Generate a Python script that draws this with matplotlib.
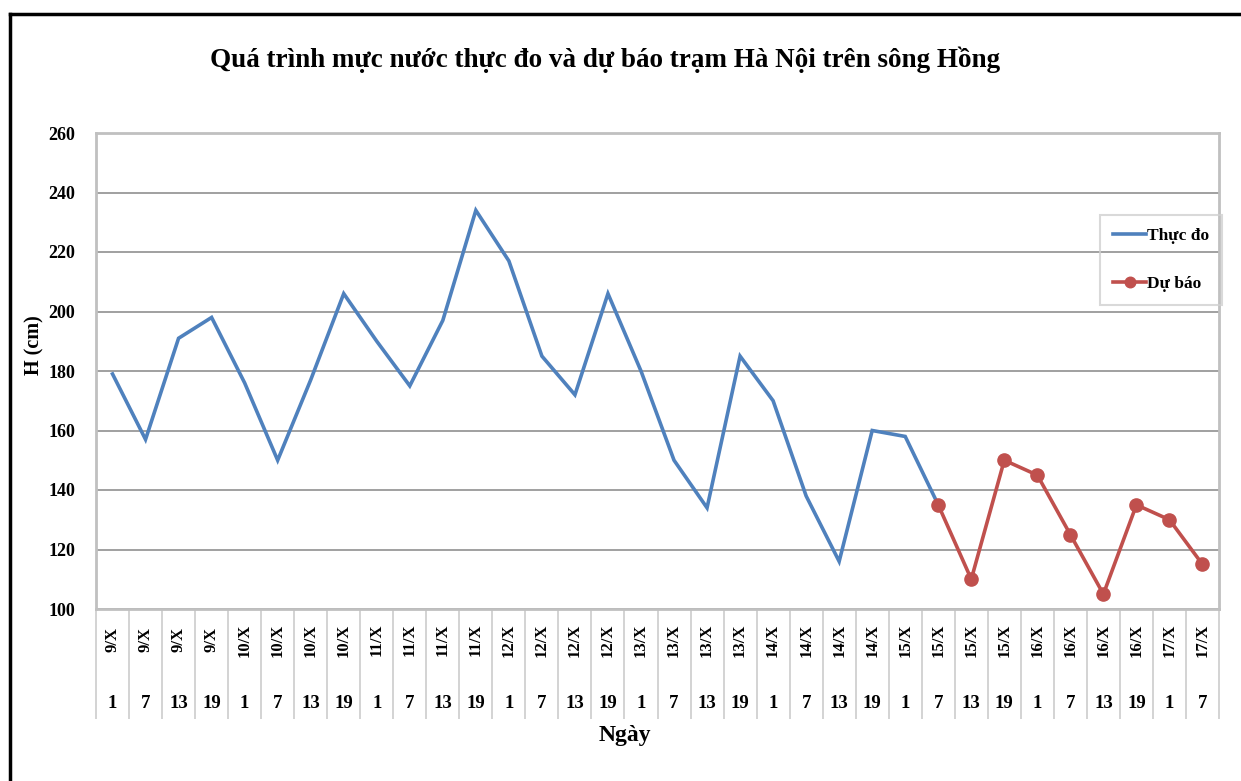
import numpy as np
import matplotlib.pyplot as plt
from matplotlib.lines import Line2D
from matplotlib.transforms import blended_transform_factory

plt.rcParams['font.family'] = ['Liberation Serif', 'DejaVu Serif']
plt.rcParams['font.weight'] = 'bold'

# du lieu
days = ['9/X'] * 4 + ['10/X'] * 4 + ['11/X'] * 4 + ['12/X'] * 4 + ['13/X'] * 4 \
    + ['14/X'] * 4 + ['15/X'] * 4 + ['16/X'] * 4 + ['17/X'] * 2
hours = ['1', '7', '13', '19'] * 8 + ['1', '7']

thuc_do = [179, 157, 191, 198, 176, 150, 177, 206, 190, 175, 197, 234, 217,
           185, 172, 206, 180, 150, 134, 185, 170, 138, 116, 160, 158, 135]
du_bao = [np.nan] * 25 + [135, 110, 150, 145, 125, 105, 135, 130, 115]

y_ticks = [100, 120, 140, 160, 180, 200, 220, 240, 260]

W, H = 1241, 781
fig = plt.figure(figsize=(W / 100, H / 100), dpi=100)
ax = fig.add_axes([96 / W, 1 - 609 / H, (1219 - 96) / W, (609 - 133) / H])

n = len(days)
x = np.arange(n)
ax.plot(x[:len(thuc_do)], thuc_do, color='#4F81BD', lw=2.6, label='Thực đo',
        solid_joinstyle='miter')
ax.plot(x, du_bao, color='#C0504D', lw=2.6, marker='o', ms=9.5, label='Dự báo')

ax.set_xlim(-0.5, n - 0.5)
ax.set_ylim(100, 260)
ax.set_yticks(y_ticks)
ax.set_yticklabels([str(v) for v in y_ticks], fontsize=13, fontweight='bold')
ax.tick_params(axis='y', length=0, pad=15)
ax.yaxis.grid(True, color='#999999', lw=1.3)
ax.set_axisbelow(True)
for s in ax.spines.values():
    s.set_color('#c0c0c0')
    s.set_linewidth(2)

# truc x hai cap
ax.set_xticks(x)
ax.set_xticklabels([])
ax.tick_params(axis='x', which='major', length=0)
ax.set_xticks(np.arange(-0.5, n), minor=True)
ax.tick_params(axis='x', which='minor', length=79, color='#cccccc', width=1.2)
trans = blended_transform_factory(ax.transData, fig.transFigure)
for i in range(n):
    ax.text(i, 1 - 640 / H, days[i], transform=trans, rotation=90,
            ha='center', va='center', fontsize=12, fontweight='bold')
    ax.text(i, 1 - 704 / H, hours[i], transform=trans,
            ha='center', va='center', fontsize=13.5, fontweight='bold')

fig.text(605 / W, 1 - 60 / H, 'Quá trình mực nước thực đo và dự báo trạm Hà Nội trên sông Hồng',
         ha='center', va='center', fontsize=19.5, fontweight='bold')
fig.text(625 / W, 1 - 736 / H, 'Ngày', ha='center', va='center',
         fontsize=17, fontweight='bold')
fig.text(34 / W, 1 - 345 / H, 'H (cm)', ha='center', va='center', rotation=90,
         fontsize=14.5, fontweight='bold')

# khung den
fig.add_artist(Line2D([9.5 / W, 1], [1 - 13.5 / H] * 2, color='black', lw=2.5,
                      transform=fig.transFigure))
fig.add_artist(Line2D([9.5 / W] * 2, [0, 1 - 13.5 / H], color='black', lw=2.5,
                      transform=fig.transFigure))

leg = ax.legend(loc='upper left',
                bbox_to_anchor=((1100 - 96) / (1219 - 96), 1 - (215 - 133) / (609 - 133)),
                borderaxespad=0, frameon=True, fancybox=False, edgecolor='#d0d0d0',
                facecolor='none', prop={'size': 12.5, 'weight': 'bold'},
                handlelength=1.9, handletextpad=0.05, labelspacing=1.85, borderpad=0.75,
                markerscale=0.8)
leg.get_frame().set_linewidth(1.5)

fig.savefig('out.png', dpi=100)
